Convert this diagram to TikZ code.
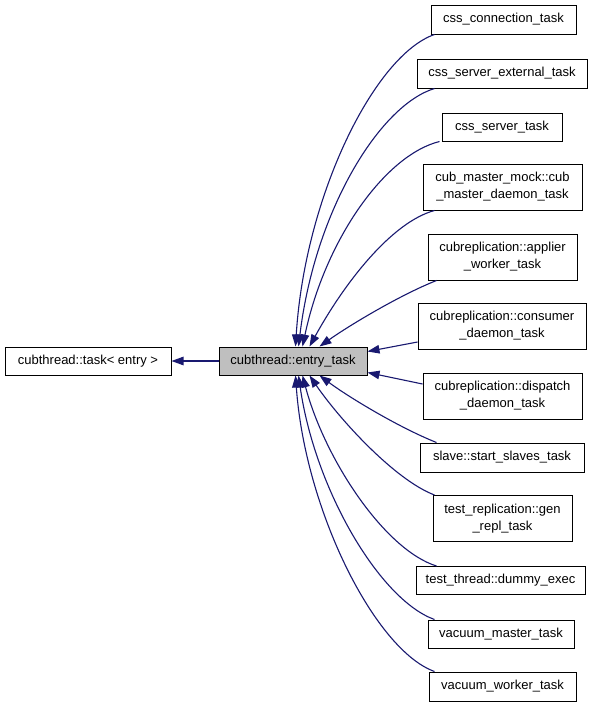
\documentclass[tikz,border=0pt]{standalone}
\usepackage{fontspec}
\setmainfont{Liberation Sans}
\usetikzlibrary{arrows.meta,calc}
\definecolor{edgeblue}{HTML}{191970}
\definecolor{boxgray}{HTML}{BFBFBF}
\begin{document}
\begin{tikzpicture}[x=1pt,y=-1pt,
  box/.style={draw=black,line width=1pt,fill=white,inner sep=0pt,align=center,
    font=\fontsize{13}{17}\selectfont},
  edge/.style={draw=edgeblue,line width=1.1pt,{Triangle[length=12pt,width=8.5pt]}-},
]
\useasboundingbox (0,0) rectangle (595,707);
\fill[white] (0,0) rectangle (595,707);
% nodes
\node[box,minimum width=166pt,minimum height=28pt] (task) at (88,361) {cubthread::task\textless{} entry \textgreater};
\node[box,fill=boxgray,minimum width=148pt,minimum height=28pt] (entry) at (293,361) {cubthread::entry\_task};
\node[box,minimum width=145pt,minimum height=29pt] (n1) at (503.5,19.5) {css\_connection\_task};
\node[box,minimum width=170pt,minimum height=29pt] (n2) at (502,73.5) {css\_server\_external\_task};
\node[box,minimum width=120pt,minimum height=28pt] (n3) at (502,127) {css\_server\_task};
\node[box,minimum width=159pt,minimum height=46pt] (n4) at (502.5,187) {cub\_master\_mock::cub\\\_master\_daemon\_task};
\node[box,minimum width=149pt,minimum height=46pt] (n5) at (502.5,257) {cubreplication::applier\\\_worker\_task};
\node[box,minimum width=168pt,minimum height=46pt] (n6) at (502,326) {cubreplication::consumer\\\_daemon\_task};
\node[box,minimum width=159pt,minimum height=46pt] (n7) at (502.5,396) {cubreplication::dispatch\\\_daemon\_task};
\node[box,minimum width=164pt,minimum height=29pt] (n8) at (502,457.5) {slave::start\_slaves\_task};
\node[box,minimum width=139pt,minimum height=46pt] (n9) at (502.5,518.5) {test\_replication::gen\\\_repl\_task};
\node[box,minimum width=169pt,minimum height=28pt] (n10) at (500.5,580.5) {test\_thread::dummy\_exec};
\node[box,minimum width=146pt,minimum height=28pt] (n11) at (501,634) {vacuum\_master\_task};
\node[box,minimum width=147pt,minimum height=29pt] (n12) at (502.5,686.5) {vacuum\_worker\_task};
% edges
\draw[edge] (task.east) -- (entry.west);
\draw[edge] ([xshift=77pt]entry.north west) .. controls (305,195) and (375,55) .. ([xshift=4pt]n1.south west);
\draw[edge] ([xshift=80pt]entry.north west) .. controls (315,210) and (380,105) .. ([xshift=18pt]n2.south west);
\draw[edge] ([xshift=84pt]entry.north west) .. controls (325,240) and (385,155) .. ([xshift=-2pt]n3.south west);
\draw[edge] ([xshift=91pt]entry.north west) .. controls (345,282) and (392,222) .. ([xshift=12pt]n4.south west);
\draw[edge] ([xshift=101pt]entry.north west) .. controls (350,325) and (400,295) .. ([xshift=9pt]n5.south west);
\draw[edge] ([yshift=-5pt]entry.north east) -- ([yshift=-16pt]n6.west);
\draw[edge] ([yshift=3pt]entry.south east) -- ([yshift=12pt]n7.west);
\draw[edge] ([xshift=101pt]entry.south west) .. controls (350,398) and (400,428) .. ([xshift=17pt]n8.north west);
\draw[edge] ([xshift=91pt]entry.south west) .. controls (340,420) and (395,480) .. ([xshift=2pt]n9.north west);
\draw[edge] ([xshift=84pt]entry.south west) .. controls (325,460) and (385,550) .. ([xshift=21pt]n10.north west);
\draw[edge] ([xshift=80pt]entry.south west) .. controls (315,490) and (380,600) .. ([xshift=7pt]n11.north west);
\draw[edge] ([xshift=77pt]entry.south west) .. controls (305,510) and (375,650) .. ([xshift=6pt]n12.north west);
\end{tikzpicture}
\end{document}
